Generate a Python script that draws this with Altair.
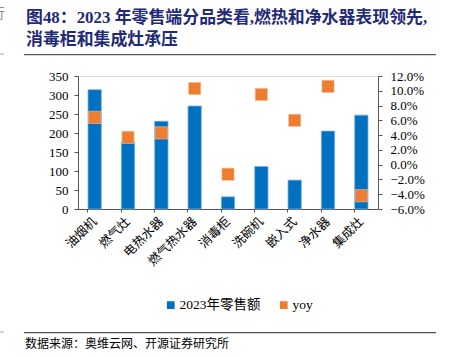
import altair as alt
import pandas as pd

categories = ["油烟机", "燃气灶", "电热水器", "燃气热水器", "消毒柜", "洗碗机", "嵌入式", "净水器", "集成灶"]
sales_2023 = [314, 176, 231, 271, 32, 112, 76, 205, 247]
yoy = [0.064, 0.037, 0.043, 0.103, -0.013, 0.095, 0.060, 0.106, -0.042]

title_lines = ["图48：2023 年零售端分品类看,燃热和净水器表现领先,", "消毒柜和集成灶承压"]
source_text = "数据来源：奥维云网、开源证券研究所"
legend_names = ["2023年零售额", "yoy"]
colors = ["#0070C0", "#ED7D31"]

FONT = "Liberation Serif, Noto Sans CJK SC"
CJK = "Noto Sans CJK SC, Liberation Serif"
TITLE_COLOR = "#1F2A78"

df_bar = pd.DataFrame({"cat": categories, "val": sales_2023, "series": legend_names[0]})
df_pt = pd.DataFrame({"cat": categories, "val": yoy, "series": legend_names[1]})

color = alt.Color(
    "series:N",
    scale=alt.Scale(domain=legend_names, range=colors),
    legend=alt.Legend(
        title=None, orient="none", legendX=86, legendY=222, direction="horizontal",
        symbolType="square", symbolSize=60, symbolStrokeWidth=0,
        labelFont=FONT, labelFontSize=13.5, labelColor="#000000", columnPadding=16,
        symbolOffset=0, labelOffset=2,
    ),
)

xenc = alt.X(
    "cat:N", sort=categories, title=None,
    scale=alt.Scale(paddingInner=0.6, paddingOuter=0.3),
    axis=alt.Axis(labelAngle=-45, labelAlign="right", labelBaseline="middle",
                  labelFont=CJK, labelFontSize=12.5, labelColor="#000000",
                  labelPadding=7, domainColor="#555555", tickColor="#555555",
                  tickSize=3, bandPosition=0),
)

bars = alt.Chart(df_bar).mark_bar(stroke="#7FB0E0", strokeWidth=0.8).encode(
    x=xenc,
    y=alt.Y("val:Q", title=None,
            scale=alt.Scale(domain=[0, 350], nice=False),
            axis=alt.Axis(values=list(range(0, 351, 50)), grid=False, labelFont=FONT,
                          labelFontSize=13, labelColor="#000000", domainColor="#555555",
                          tickColor="#555555", tickSize=4, labelPadding=6)),
    color=color,
)

points = alt.Chart(df_pt).mark_square(size=150, opacity=1, stroke="#F7C4A0", strokeWidth=0.6).encode(
    x=alt.X("cat:N", sort=categories),
    y=alt.Y("val:Q", title=None,
            scale=alt.Scale(domain=[-0.06, 0.12], nice=False),
            axis=alt.Axis(orient="right", values=[i / 100 for i in range(-6, 13, 2)],
                          format=".1%", grid=False, labelFont=FONT, labelFontSize=13,
                          labelColor="#000000", domainColor="#555555",
                          tickColor="#555555", tickSize=4, labelPadding=8)),
    color=color,
)

one = pd.DataFrame({"a": [0]})


def text_layer(txt, x, y, font, size, color, weight="normal"):
    return alt.Chart(one).mark_text(text=txt, align="left", baseline="middle", font=font,
                                    fontSize=size, fontWeight=weight, color=color).encode(
        x=alt.value(x), y=alt.value(y))


t1 = text_layer(title_lines[0], -52, -58, FONT, 16.9, TITLE_COLOR, "bold")
t2 = text_layer(title_lines[1], -52, -36, FONT, 16.9, TITLE_COLOR, "bold")
src = text_layer(source_text, -53, 268, CJK, 12, "#000000")
frag = text_layer("行", -87, -62, CJK, 14, "#8A8A9A")

rect_top = alt.Chart(one).mark_rect(color="#59595F").encode(
    x=alt.value(-54), x2=alt.value(358), y=alt.value(-22), y2=alt.value(-20.8))
rect_bot = alt.Chart(one).mark_rect(color="#4F4F55").encode(
    x=alt.value(-54), x2=alt.value(358), y=alt.value(256), y2=alt.value(257.2))
frag_top = alt.Chart(one).mark_rule(color="darkgray").encode(
    x=alt.value(-78), x2=alt.value(-74), y=alt.value(-22))
frag_bot = alt.Chart(one).mark_rule(color="darkgray").encode(
    x=alt.value(-78), x2=alt.value(-74), y=alt.value(256))

chart = alt.layer(bars, points, t1, t2, rect_top, rect_bot,
                  frag_top, frag_bot, src, frag).resolve_scale(y="independent").properties(
    width=300, height=133,
    autosize=alt.AutoSizeParams(type="none"),
    padding={"left": 78, "top": 76, "right": 71, "bottom": 148},
).configure_view(stroke=None).configure(background="#ffffff")

chart.save("out.html", embed_options={"renderer": "svg", "actions": False})
